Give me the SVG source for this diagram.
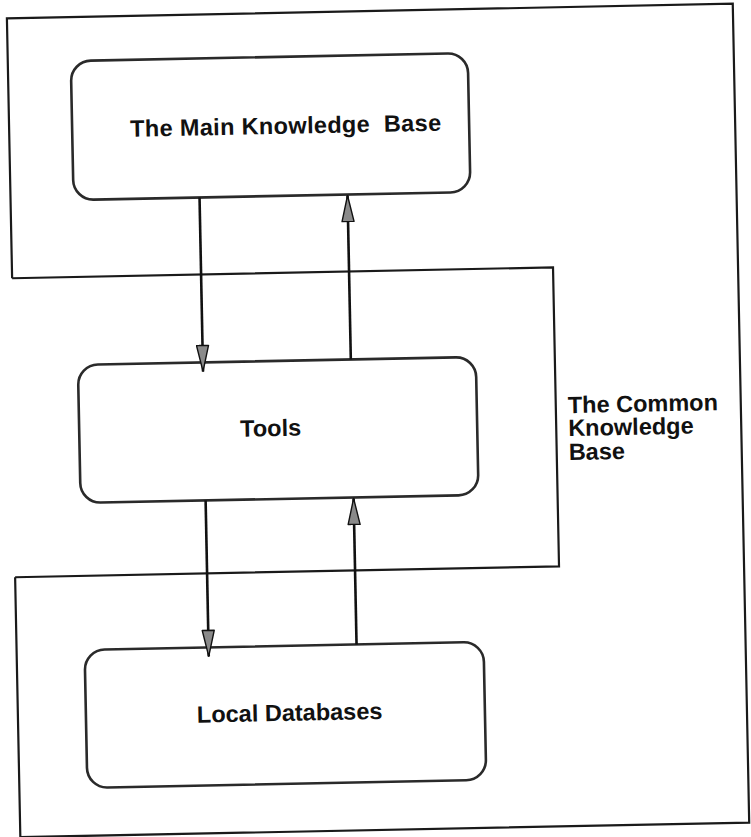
<svg xmlns="http://www.w3.org/2000/svg" width="751" height="837" viewBox="0 0 751 837">
  <style>
    .frame { fill: none; stroke: #1a1a1a; stroke-width: 2.2; stroke-linejoin: miter; }
    .box { fill: #ffffff; stroke: #2a2a2a; stroke-width: 2.6; }
    .lbl { font-family: "Liberation Sans", Arial, Helvetica, sans-serif; font-weight: bold; font-size: 23.5px; fill: #111; }
    .conn { fill: none; stroke: #111; stroke-width: 2.6; }
  </style>
  <defs>
    <marker id="head" viewBox="0 0 28 14" refX="27" refY="7" markerWidth="28" markerHeight="14" markerUnits="userSpaceOnUse" orient="auto">
      <path d="M1,1 L27,7 L1,13 Z" fill="#8a8a8a" stroke="#111" stroke-width="1.4" stroke-linejoin="round"/>
    </marker>
  </defs>
  <rect x="0" y="0" width="751" height="837" fill="#ffffff"/>
  <g transform="rotate(-1.15 375 418)">
    <g id="frame">
      <path class="frame" d="M15,271 V11 H741 V830 H12 V570"/>
      <path class="frame" d="M15,271 H556 V570 H12"/>
    </g>
    <g id="common-knowledge-base">
      <text class="lbl" x="568" y="417">The Common</text>
      <text class="lbl" x="568" y="440">Knowledge</text>
      <text class="lbl" x="568" y="464">Base</text>
    </g>
    <g id="main-knowledge-base">
      <rect class="box" x="78" y="55" width="397" height="139" rx="20" ry="20"/>
      <text class="lbl" x="136" y="132" textLength="311" xml:space="preserve">The Main Knowledge  Base</text>
    </g>
    <g id="tools">
      <rect class="box" x="79" y="359" width="398" height="138" rx="20" ry="20"/>
      <text class="lbl" x="240" y="434">Tools</text>
    </g>
    <g id="local-databases">
      <rect class="box" x="80" y="644" width="399" height="138" rx="20" ry="20"/>
      <text class="lbl" x="191" y="719">Local Databases</text>
    </g>
    <g id="connectors">
      <line class="conn" x1="204" y1="194" x2="204" y2="368" marker-end="url(#head)"/>
      <line class="conn" x1="352" y1="359" x2="352" y2="195" marker-end="url(#head)"/>
      <line class="conn" x1="204" y1="497" x2="204" y2="653" marker-end="url(#head)"/>
      <line class="conn" x1="352" y1="644" x2="352" y2="498" marker-end="url(#head)"/>
    </g>
  </g>
</svg>
